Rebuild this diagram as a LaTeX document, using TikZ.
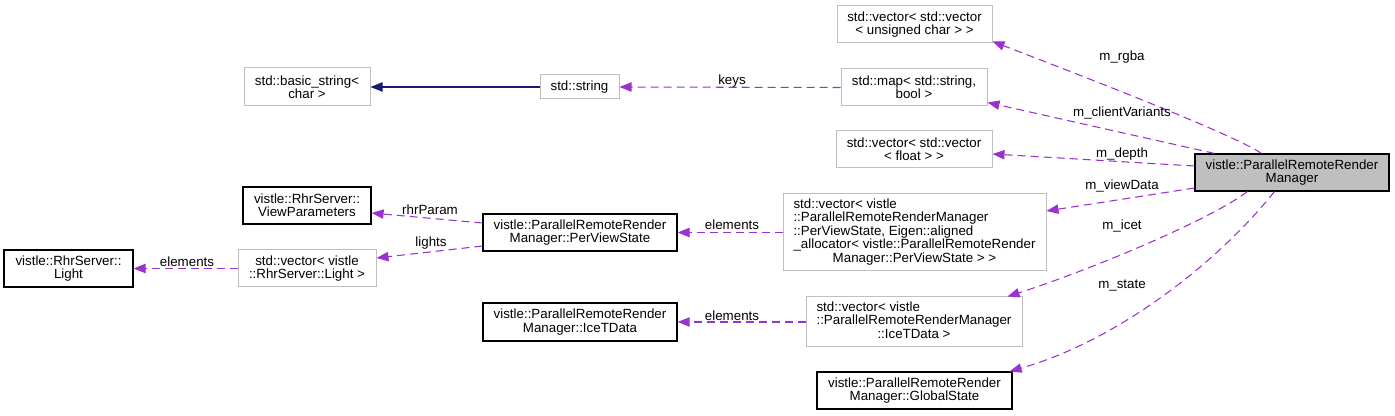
\documentclass[tikz,border=0pt]{standalone}
\usepackage{fontspec}
\setmainfont{Liberation Sans}
\usetikzlibrary{arrows.meta,calc}

\definecolor{edgepurple}{HTML}{9A32CD}
\definecolor{edgenavy}{HTML}{191970}
\definecolor{boxgray}{HTML}{BFBFBF}

\begin{document}
\begin{tikzpicture}[x=0.75pt,y=-0.75pt,
	font=\fontsize{10}{10}\selectfont,
	cls/.style={rectangle, draw=black, line width=0.9pt, align=center, inner sep=0pt, minimum height=27.75pt},
	nodoc/.style={cls, draw=boxgray, line width=0.75pt},
	member/.style={draw=edgepurple, line width=0.8pt, dash pattern=on 6pt off 3.75pt,
		-{Triangle[length=9pt,width=7pt,fill=edgepurple]}},
	lbl/.style={inner sep=0pt}]
	
	\useasboundingbox (0,0) rectangle (1395,416);
	
	\node [cls, fill=boxgray, minimum width=145.5pt] (main) at (1292,172.5) {vistle::ParallelRemoteRender\\Manager};
	\node [nodoc, minimum width=116.25pt] (rgba) at (914.5,24.5) {std::vector< std::vector\\< unsigned char > >};
	\node [nodoc, minimum width=109.5pt] (map) at (914,87.5) {std::map< std::string,\\bool >};
	\node [nodoc, minimum width=117pt] (depth) at (914,149.5) {std::vector< std::vector\\< float > >};
	\node [nodoc, minimum width=197.25pt, minimum height=57.75pt] (viewdata) at (914.5,232.5)
		{\begin{tabular}{@{}l@{}}std::vector< vistle\\::ParallelRemoteRenderManager\\::PerViewState, Eigen::aligned\\\_allocator< vistle::ParallelRemoteRender\\\multicolumn{1}{@{}c@{}}{Manager::PerViewState > >}\end{tabular}};
	\node [nodoc, minimum width=162pt, minimum height=37.5pt] (icet) at (914,322)
		{\begin{tabular}{@{}l@{}}std::vector< vistle\\::ParallelRemoteRenderManager\\\multicolumn{1}{@{}c@{}}{::IceTData >}\end{tabular}};
	\node [cls, minimum width=146.25pt] (global) at (914.5,390.5) {vistle::ParallelRemoteRender\\Manager::GlobalState};
	\node [nodoc, minimum width=59.25pt, minimum height=18pt] (string) at (579.5,87) {std::string};
	\node [nodoc, minimum width=94.5pt, minimum height=28.5pt] (basic) at (307,87) {std::basic\_string<\\char >};
	\node [cls, minimum width=145.5pt] (perview) at (580,232.5) {vistle::ParallelRemoteRender\\Manager::PerViewState};
	\node [cls, minimum width=145.5pt, minimum height=28.5pt] (icetdata) at (580,322) {vistle::ParallelRemoteRender\\Manager::IceTData};
	\node [cls, minimum width=96pt] (viewparams) at (307,205.5) {vistle::RhrServer::\\ViewParameters};
	\node [nodoc, minimum width=103.5pt] (veclight) at (307,268.5) {std::vector< vistle\\::RhrServer::Light >};
	\node [cls, minimum width=96.75pt] (light) at (68.5,268.5) {vistle::RhrServer::\\Light};
	
	\draw [member] ($(main.north west)+(67,0)$) .. controls (1235,135) and (1080,75) .. ($(rgba.south east)+(0,-2)$)
		node [lbl] at (1122,57) {m\_rgba};
	\draw [member] ($(main.north west)+(20,0)$) -- ($(map.south east)+(0,-4)$)
		node [lbl] at (1122,113) {m\_clientVariants};
	\draw [member] ($(main.west)+(0,-6.5)$) -- ($(depth.east)+(0,4.5)$)
		node [lbl] at (1122,154) {m\_depth};
	\draw [member] ($(main.west)+(0,15.5)$) -- ($(viewdata.east)+(0,-21.5)$)
		node [lbl] at (1122,186) {m\_viewData};
	\draw [member] ($(main.south west)+(53,0)$) .. controls (1210,220) and (1090,270) .. ($(icet.north east)+(-15,0)$)
		node [lbl] at (1122,226) {m\_icet};
	\draw [member] ($(main.south west)+(80,0)$) .. controls (1220,260) and (1120,340) .. ($(global.north east)+(-3,0)$)
		node [lbl] at (1122,286) {m\_state};
	
	\draw [member] (map.west) -- (string.east)
		node [lbl] at (732,81) {keys};
	\draw [draw=edgenavy, line width=0.8pt, -{Triangle[length=9pt,width=7pt,fill=edgenavy]}] (string.west) -- (basic.east);
	\draw [member] (viewdata.west) -- (perview.east)
		node [lbl] at (732,225) {elements};
	\draw [member] (icet.west) -- (icetdata.east)
		node [lbl] at (732,316) {elements};
	\draw [member] ($(perview.west)+(0,-9.5)$) -- ($(viewparams.east)+(0,7.5)$)
		node [lbl] at (430,210) {rhrParam};
	\draw [member] ($(perview.west)+(0,13.5)$) -- ($(veclight.east)+(0,-10.5)$)
		node [lbl] at (431,243) {lights};
	\draw [member] (veclight.west) -- (light.east)
		node [lbl] at (187,262) {elements};
	
\end{tikzpicture}
\end{document}
